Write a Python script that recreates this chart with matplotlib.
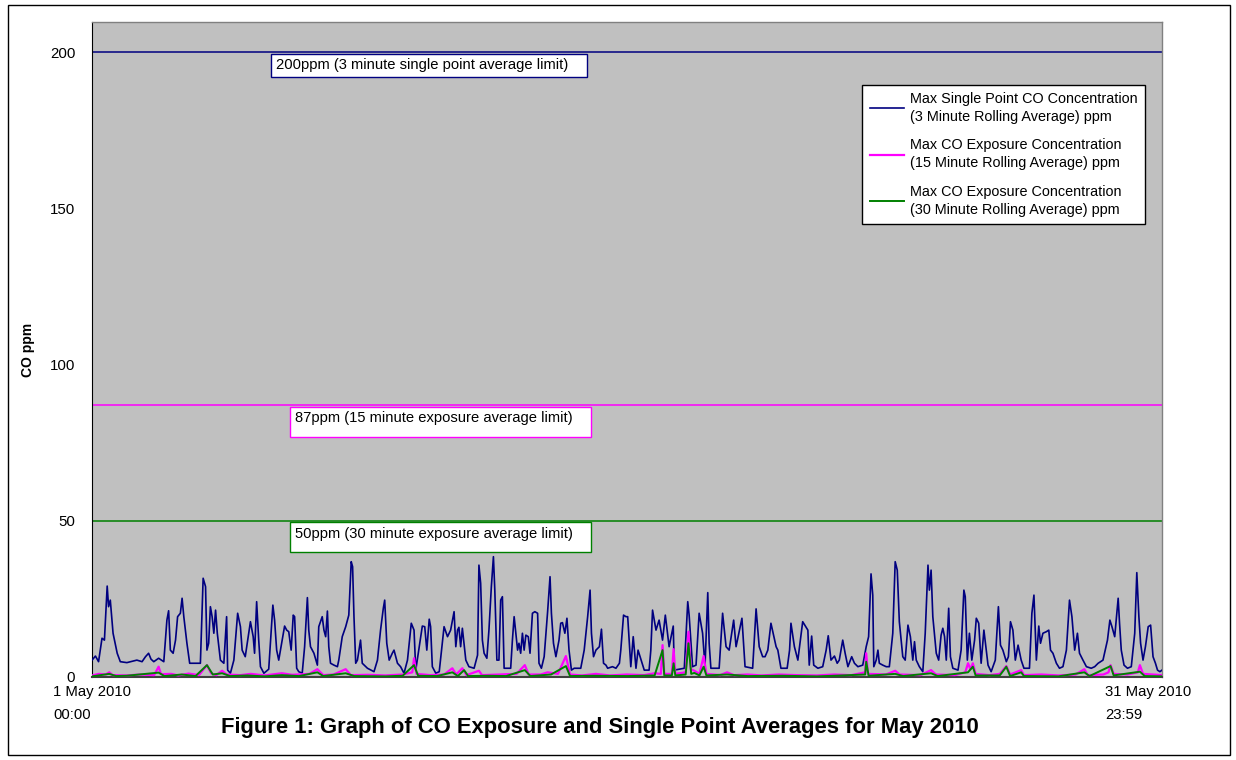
import matplotlib
matplotlib.use("Agg")
import matplotlib.pyplot as plt
from matplotlib.patches import Rectangle

plt.rcParams.update({
    "font.family": ["Liberation Sans", "DejaVu Sans"],
    "font.size": 10,
})

# ---- data: day of May 2010 (0 = 1 May 00:00, 31 = 31 May 23:59), ppm ----
blue_days = [0.00, 0.10, 0.19, 0.29, 0.36, 0.44, 0.48, 0.53, 0.61, 0.73, 0.82, 1.01, 1.30, 1.45,
             1.55, 1.64, 1.71, 1.79, 1.93, 2.08, 2.17, 2.22, 2.27, 2.35, 2.42, 2.48, 2.56, 2.61,
             2.66, 2.75, 2.83, 3.14, 3.22, 3.29, 3.33, 3.38, 3.43, 3.48, 3.53, 3.58, 3.63, 3.72,
             3.82, 3.90, 3.93, 4.01, 4.11, 4.22, 4.30, 4.35, 4.44, 4.59, 4.67, 4.71, 4.77, 4.83,
             4.88, 4.98, 5.12, 5.24, 5.29, 5.35, 5.41, 5.51, 5.58, 5.64, 5.70, 5.77, 5.83, 5.87,
             5.93, 5.99, 6.09, 6.16, 6.24, 6.28, 6.33, 6.43, 6.53, 6.57, 6.67, 6.72, 6.77, 6.82,
             6.86, 6.91, 7.01, 7.11, 7.15, 7.25, 7.35, 7.44, 7.51, 7.55, 7.59, 7.64, 7.69, 7.78,
             7.83, 7.98, 8.17, 8.27, 8.36, 8.44, 8.48, 8.54, 8.61, 8.70, 8.75, 8.85, 8.94, 9.04,
             9.14, 9.25, 9.33, 9.38, 9.48, 9.57, 9.64, 9.70, 9.77, 9.81, 9.86, 9.96, 10.06, 10.15,
             10.20, 10.30, 10.39, 10.49, 10.54, 10.59, 10.63, 10.68, 10.73, 10.83, 10.92, 11.07,
             11.17, 11.21, 11.26, 11.31, 11.36, 11.44, 11.50, 11.57, 11.63, 11.67, 11.73, 11.79,
             11.84, 11.89, 11.94, 12.13, 12.18, 12.23, 12.28, 12.33, 12.37, 12.42, 12.47, 12.52,
             12.57, 12.64, 12.69, 12.76, 12.83, 12.91, 12.95, 13.02, 13.10, 13.20, 13.27, 13.31,
             13.37, 13.44, 13.53, 13.58, 13.63, 13.70, 13.76, 13.82, 13.89, 13.97, 14.16, 14.26,
             14.36, 14.43, 14.47, 14.53, 14.60, 14.70, 14.76, 14.82, 14.89, 14.94, 15.08, 15.18,
             15.28, 15.32, 15.40, 15.47, 15.52, 15.61, 15.68, 15.76, 15.82, 15.88, 16.00, 16.14,
             16.19, 16.24, 16.34, 16.43, 16.53, 16.61, 16.72, 16.84, 16.87, 17.16, 17.26, 17.30,
             17.40, 17.50, 17.59, 17.69, 17.76, 17.84, 17.88, 17.93, 18.17, 18.27, 18.37, 18.46,
             18.59, 18.66, 18.83, 18.92, 19.14, 19.24, 19.33, 19.43, 19.50, 19.58, 19.67, 19.82,
             19.87, 19.96, 20.14, 20.21, 20.25, 20.35, 20.45, 20.59, 20.74, 20.78, 20.85, 20.91,
             21.03, 21.17, 21.27, 21.33, 21.41, 21.51, 21.59, 21.65, 21.75, 21.82, 21.90, 22.01,
             22.09, 22.19, 22.33, 22.43, 22.50, 22.57, 22.62, 22.65, 22.72, 22.77, 22.81, 22.91,
             23.01, 23.10, 23.20, 23.27, 23.33, 23.39, 23.49, 23.56, 23.64, 23.71, 23.78, 23.83,
             23.88, 23.97, 24.07, 24.14, 24.22, 24.26, 24.31, 24.36, 24.46, 24.53, 24.60, 24.65,
             24.70, 24.75, 24.82, 24.87, 24.94, 25.09, 25.18, 25.26, 25.30, 25.36, 25.42, 25.49,
             25.57, 25.62, 25.69, 25.76, 25.84, 25.91, 25.96, 26.05, 26.17, 26.26, 26.32, 26.39,
             26.49, 26.55, 26.61, 26.68, 26.75, 26.83, 26.92, 27.00, 27.16, 27.23, 27.29, 27.36,
             27.43, 27.48, 27.55, 27.65, 27.72, 27.77, 27.84, 27.94, 28.03, 28.13, 28.23, 28.32,
             28.39, 28.47, 28.55, 28.61, 28.71, 28.81, 28.95, 29.05, 29.15, 29.29, 29.42, 29.49,
             29.55, 29.63, 29.73, 29.77, 29.82, 29.90, 30.00, 30.11, 30.21, 30.27, 30.33, 30.38,
             30.45, 30.52, 30.60, 30.67, 30.74, 30.81, 30.87, 30.94, 31.00]
blue_ppm = [5.4, 6.7, 4.9, 12.4, 11.8, 29.1, 22.5, 24.6, 14.0, 7.6, 4.9, 4.6, 5.4, 4.9,
            6.5, 7.6, 5.7, 4.9, 6.0, 4.9, 18.2, 21.2, 8.6, 7.6, 11.8, 19.3, 20.4, 25.2,
            19.3, 10.8, 4.4, 4.4, 31.6, 28.9, 8.6, 10.8, 22.5, 19.3, 14.0, 21.4, 14.0, 5.4,
            4.4, 19.3, 2.2, 1.2, 5.4, 20.4, 16.1, 8.6, 6.5, 17.7, 12.9, 7.6, 24.1, 11.8,
            3.3, 1.2, 2.5, 23.0, 18.2, 8.6, 5.4, 11.8, 16.3, 15.0, 14.5, 8.6, 19.8, 19.3,
            2.8, 1.7, 1.2, 9.7, 25.4, 15.0, 9.7, 7.6, 3.8, 16.1, 19.3, 15.0, 12.9, 21.1,
            9.7, 4.4, 3.8, 3.3, 5.4, 12.9, 16.1, 19.8, 36.9, 35.3, 19.3, 4.4, 5.4, 11.8,
            4.4, 2.8, 1.7, 5.4, 15.0, 22.0, 24.6, 10.8, 5.4, 7.6, 8.6, 4.4, 3.3, 1.2,
            5.4, 17.2, 15.0, 2.2, 9.7, 16.3, 16.1, 8.6, 18.5, 16.1, 3.3, 1.2, 1.7, 10.8,
            16.1, 12.9, 15.0, 20.9, 9.7, 15.0, 15.9, 9.7, 15.6, 5.4, 3.3, 2.8,
            7.0, 35.8, 30.0, 11.8, 7.6, 6.0, 15.0, 28.9, 38.5, 27.8, 5.4, 5.4,
            24.6, 25.7, 2.8, 2.8, 11.8, 19.3, 14.0, 8.6, 10.8, 7.6, 14.0, 8.6,
            13.4, 12.9, 7.6, 20.4, 20.9, 20.4, 4.4, 2.8, 6.5, 20.9, 32.1, 20.4,
            10.8, 6.5, 11.8, 17.2, 17.4, 14.0, 18.8, 8.6, 2.2, 2.8, 2.8, 8.6,
            19.3, 27.8, 14.0, 6.5, 8.6, 9.7, 15.3, 4.4, 3.8, 2.8, 3.3, 2.8,
            4.4, 8.6, 19.8, 19.3, 19.3, 3.3, 12.9, 2.8, 8.6, 6.5, 2.2, 2.2,
            8.6, 21.4, 15.0, 18.2, 11.8, 19.8, 9.7, 16.3, 2.2, 2.8, 24.1, 19.8,
            3.3, 3.8, 20.4, 14.0, 3.3, 27.0, 10.8, 2.8, 2.8, 20.4, 9.7, 8.6,
            18.2, 9.7, 18.8, 3.3, 2.8, 21.8, 9.7, 6.5, 6.5, 8.6, 17.2, 9.7,
            8.6, 2.8, 2.8, 8.6, 17.2, 9.7, 5.4, 17.7, 15.0, 3.8, 13.1, 3.8,
            2.8, 3.3, 8.6, 13.2, 5.4, 6.7, 4.4, 5.4, 11.8, 7.6, 3.3, 6.5,
            4.4, 3.3, 3.8, 9.7, 12.9, 33.0, 26.2, 3.3, 5.4, 8.6, 4.4, 3.8,
            3.3, 3.3, 14.0, 36.9, 34.2, 17.7, 6.5, 5.4, 16.6, 12.9, 5.4, 11.3,
            5.4, 3.3, 1.7, 14.0, 35.8, 27.8, 34.2, 19.3, 7.6, 5.4, 13.4, 15.6,
            12.9, 5.4, 22.0, 6.5, 2.8, 2.2, 8.6, 27.8, 25.7, 5.4, 14.0, 5.4,
            11.8, 18.8, 17.2, 4.4, 15.0, 8.6, 3.8, 1.7, 5.4, 22.5, 10.2, 8.6,
            4.9, 6.5, 17.7, 15.0, 5.4, 10.2, 5.4, 2.8, 2.8, 20.4, 26.2, 5.4,
            16.3, 10.8, 14.0, 14.5, 15.0, 8.6, 7.6, 4.4, 2.8, 3.3, 8.6, 24.6,
            19.3, 8.6, 14.0, 7.6, 5.4, 3.3, 2.8, 3.3, 4.4, 5.4, 11.8, 18.2,
            16.1, 12.9, 25.2, 17.2, 8.6, 3.8, 2.8, 3.3, 14.0, 33.4, 19.3, 10.8,
            5.4, 9.7, 16.1, 16.6, 6.5, 4.4, 2.2, 1.7, 2.2]

mag_days = [0.0, 0.2, 0.4, 0.5, 0.6, 1.0, 1.4, 1.8, 1.93, 2.0, 2.3, 2.5, 2.8, 3.1, 3.33, 3.45,
            3.6, 3.77, 3.9, 4.3, 4.6, 5.0, 5.5, 5.8, 6.3, 6.53, 6.7, 7.0, 7.35, 7.5, 8.0, 8.5,
            9.0, 9.28, 9.33, 9.4, 9.8, 10.2, 10.44, 10.55, 10.73, 10.85, 11.21, 11.3, 11.8,
            12.3, 12.54, 12.65, 13.0, 13.2, 13.5, 13.73, 13.85, 14.2, 14.6, 15.0, 15.5, 16.0,
            16.3, 16.48, 16.53, 16.58, 16.8, 16.85, 16.9, 17.2, 17.28, 17.35, 17.45, 17.6,
            17.72, 17.8, 18.2, 18.4, 18.6, 19.0, 19.4, 19.9, 20.4, 21.0, 21.5, 22.0, 22.4,
            22.43, 22.48, 23.0, 23.27, 23.4, 24.0, 24.31, 24.45, 25.0, 25.3, 25.38, 25.45,
            25.52, 25.6, 26.0, 26.3, 26.49, 26.6, 26.92, 27.0, 27.5, 28.0, 28.5, 28.75, 28.85,
            29.3, 29.45, 29.51, 29.6, 30.0, 30.3, 30.36, 30.45, 31.0]
mag_ppm = [0.5, 1.0, 0.8, 1.5, 0.6, 0.5, 0.8, 0.6, 3.3, 0.9, 1.0, 0.5, 1.1, 0.6, 3.8, 1.2,
           0.6, 2.0, 0.8, 0.6, 1.0, 0.5, 1.2, 0.7, 1.0, 2.5, 0.6, 0.8, 2.5, 0.6, 0.7, 0.5,
           0.8, 1.5, 6.0, 1.0, 0.6, 0.8, 2.8, 0.8, 2.8, 0.6, 2.0, 0.6, 0.8,
           1.0, 3.8, 0.8, 0.8, 1.5, 1.0, 6.7, 0.8, 0.5, 1.0, 0.5, 0.8, 0.6,
           1.2, 1.0, 10.2, 1.0, 1.0, 8.9, 1.0, 1.5, 14.5, 2.5, 2.0, 1.0,
           6.7, 1.0, 0.6, 1.5, 0.6, 0.8, 0.5, 0.8, 0.6, 0.5, 0.8, 0.6, 1.5,
           7.6, 1.0, 0.8, 2.0, 0.8, 0.6, 2.2, 0.8, 0.6, 1.5, 4.4, 2.5,
           4.4, 1.0, 0.6, 1.0, 3.5, 0.8, 2.2, 0.6, 0.8, 0.5, 0.8, 2.5, 0.6,
           0.8, 1.5, 3.8, 1.0, 0.8, 1.5, 3.8, 1.0, 0.6]

grn_days = [0.0, 0.5, 0.7, 1.0, 1.93, 2.1, 2.6, 3.0, 3.33, 3.5, 3.77, 4.0, 4.5, 5.0, 5.5, 6.0,
            6.53, 6.7, 7.35, 7.6, 8.5, 9.0, 9.33, 9.45, 10.0, 10.44, 10.6, 10.78, 10.9, 11.5,
            12.0, 12.54, 12.7, 13.3, 13.73, 13.85, 14.5, 15.5, 16.3, 16.53, 16.58, 16.8, 16.85,
            16.9, 17.2, 17.28, 17.36, 17.45, 17.6, 17.72, 17.8, 18.4, 19.0, 20.0, 21.0, 21.5,
            22.4, 22.43, 22.5, 23.27, 23.5, 24.31, 24.5, 25.38, 25.52, 25.6, 26.3, 26.49, 26.6,
            26.92, 27.0, 28.0, 28.75, 28.9, 29.51, 29.6, 30.36, 30.5, 31.0]
grn_ppm = [0.2, 1.0, 0.3, 0.4, 1.4, 0.3, 0.8, 0.3, 3.8, 0.8, 1.2, 0.3, 0.5, 0.2, 0.6, 0.3,
           1.5, 0.3, 1.2, 0.3, 0.2, 0.4, 3.8, 0.4, 0.3, 1.5, 0.3, 2.2, 0.3, 0.4,
           0.3, 2.2, 0.3, 0.8, 3.5, 0.3, 0.4, 0.3, 0.5, 8.6, 0.5, 0.5, 4.4,
           0.5, 0.8, 10.8, 1.0, 1.3, 0.5, 3.3, 0.5, 0.8, 0.3, 0.4, 0.2, 0.4,
           0.8, 4.9, 0.4, 1.0, 0.3, 1.2, 0.3, 1.5, 3.3, 0.5, 0.5, 3.3, 0.3,
           1.5, 0.3, 0.2, 1.5, 0.3, 3.5, 0.5, 1.7, 0.3, 0.2]

limits = [200, 87, 50]
limit_labels = ["200ppm (3 minute single point average limit)",
                "87ppm (15 minute exposure average limit)",
                "50ppm (30 minute exposure average limit)"]
series_labels = ["Max Single Point CO Concentration\n(3 Minute Rolling Average) ppm",
                 "Max CO Exposure Concentration\n(15 Minute Rolling Average) ppm",
                 "Max CO Exposure Concentration\n(30 Minute Rolling Average) ppm"]
colors = ["#000080", "#FF00FF", "#008000"]

fig = plt.figure(figsize=(12.36, 7.6), dpi=100)
ax = fig.add_axes([92 / 1236, 83 / 760, 1070 / 1236, 655 / 760])
ax.set_facecolor("#C0C0C0")

ax.plot(blue_days, blue_ppm, color=colors[0], lw=1.2, label=series_labels[0], zorder=3)
ax.plot(mag_days, mag_ppm, color=colors[1], lw=1.6, label=series_labels[1], zorder=4)
ax.plot(grn_days, grn_ppm, color=colors[2], lw=1.4, label=series_labels[2], zorder=5)

# limit lines and their labels (boxes hang just under each line)
box_x = [5.19, 5.74, 5.74]
box_w = [9.14, 8.73, 8.73]
box_h = [7.4, 9.6, 9.6]
for lim, txt, c, bx, bw, bh in zip(limits, limit_labels, colors, box_x, box_w, box_h):
    ax.axhline(lim, color=c, lw=1.1, zorder=2)
    top = lim - 0.5
    ax.add_patch(Rectangle((bx, top - bh), bw, bh, facecolor="white",
                           edgecolor=c, lw=1.0, zorder=6))
    ax.text(bx + 0.14, top - 3.6, txt, ha="left", va="center", fontsize=10.6, zorder=7)

ax.set_xlim(0, 31)
ax.set_ylim(0, 209.6)
ax.set_yticks([0, 50, 100, 150, 200])
ax.set_xticks([0, 30.6])
ax.set_xticklabels(["1 May 2010\n00:00", "31 May 2010\n23:59"], multialignment="left",
                   linespacing=1.75)
ax.tick_params(axis="y", length=0, pad=12, labelsize=10.8)
ax.tick_params(axis="x", length=0, pad=6, labelsize=10.7)
ax.set_ylabel("CO ppm", fontweight="bold", fontsize=10)
ax.yaxis.set_label_coords(-0.053, 0.5)

for s in ["top", "right"]:
    ax.spines[s].set_color("#808080")
    ax.spines[s].set_linewidth(1.0)
ax.spines["left"].set_color("black")
ax.spines["bottom"].set_color("#404040")
ax.spines["bottom"].set_linewidth(1.5)

leg = ax.legend(loc="upper right", bbox_to_anchor=(0.984, 0.904), fontsize=10.4,
                frameon=True, fancybox=False, borderaxespad=0, handlelength=2.4,
                labelspacing=1.0, borderpad=0.5, handletextpad=0.4)
for t in leg.get_texts():
    t.set_linespacing(1.35)
leg.get_frame().set_edgecolor("black")
leg.get_frame().set_linewidth(1.0)
leg.get_frame().set_facecolor("white")
leg.get_frame().set_alpha(1)
leg.set_zorder(8)

fig.text(0.485, 1 - 727 / 760, "Figure 1: Graph of CO Exposure and Single Point Averages for May 2010",
         ha="center", va="center", fontsize=15.8, fontweight="bold")

# outer border round the whole chart
fig.patches.append(Rectangle((8 / 1236, 5 / 760), 1222 / 1236, 750 / 760,
                             transform=fig.transFigure, fill=False, edgecolor="black", lw=1.0))

fig.savefig("out.png", dpi=100)
